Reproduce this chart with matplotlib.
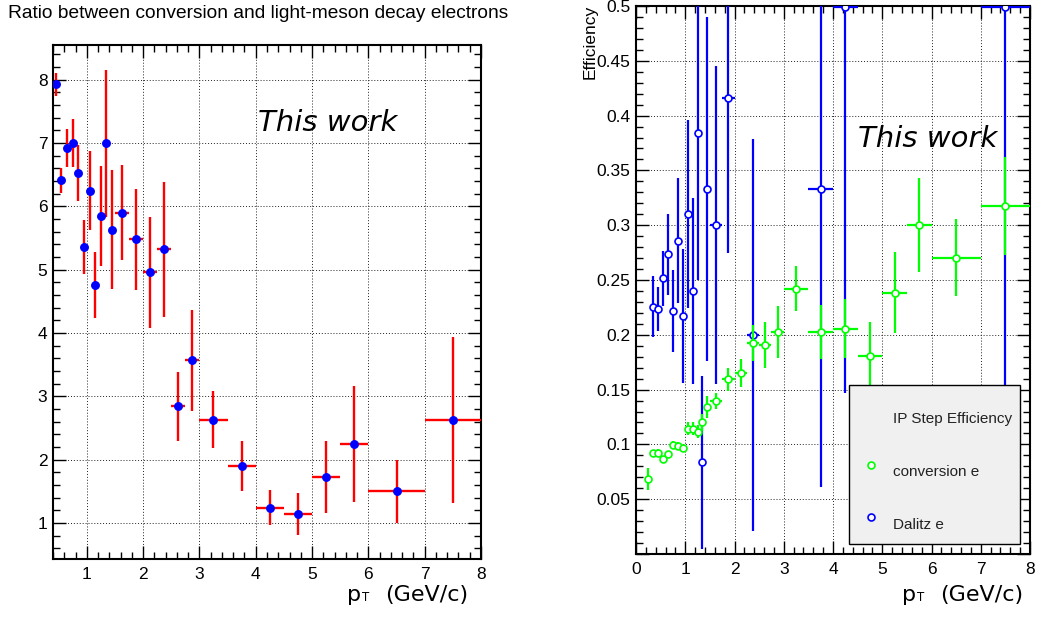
import matplotlib
matplotlib.use("Agg")
import matplotlib.pyplot as plt
from matplotlib.ticker import MultipleLocator, FuncFormatter
from matplotlib.patches import Rectangle
from matplotlib.lines import Line2D
from matplotlib.offsetbox import TextArea, HPacker, AnchoredOffsetbox

# ---- ratio of conversion to light-meson decay electrons ----
ratio_pt = [0.45, 0.55, 0.65, 0.75, 0.85, 0.95, 1.05, 1.15, 1.25, 1.35, 1.45,
            1.625, 1.875, 2.125, 2.375, 2.625, 2.875,
            3.25, 3.75, 4.25, 4.75, 5.25, 5.75, 6.5, 7.5]
ratio_halfbin = [0.05] * 11 + [0.125] * 6 + [0.25] * 6 + [0.5] * 2
ratio_val = [7.93, 6.41, 6.92, 7.00, 6.53, 5.36, 6.25, 4.76, 5.85, 7.00, 5.63,
             5.90, 5.48, 4.96, 5.32, 2.84, 3.57,
             2.63, 1.90, 1.24, 1.14, 1.73, 2.25, 1.50, 2.62]
ratio_err = [0.18, 0.20, 0.30, 0.38, 0.44, 0.42, 0.63, 0.52, 0.79, 1.16, 0.94,
             0.75, 0.80, 0.88, 1.07, 0.55, 0.80,
             0.45, 0.39, 0.28, 0.33, 0.57, 0.92, 0.50, 1.31]

# ---- IP step efficiency: conversion electrons ----
conv_pt = [0.25, 0.35, 0.45, 0.55, 0.65, 0.75, 0.85, 0.95, 1.05, 1.15, 1.25, 1.35, 1.45,
           1.625, 1.875, 2.125, 2.375, 2.625, 2.875,
           3.25, 3.75, 4.25, 4.75, 5.25, 5.75, 6.5, 7.5]
conv_halfbin = [0.05] * 13 + [0.125] * 6 + [0.25] * 6 + [0.5] * 2
conv_eff = [0.0685, 0.0922, 0.0925, 0.0868, 0.0913, 0.0998, 0.0989, 0.0965,
            0.1144, 0.1144, 0.1114, 0.1200, 0.1338,
            0.1396, 0.1593, 0.1650, 0.1927, 0.1906, 0.2027,
            0.2421, 0.2024, 0.2057, 0.1811, 0.2382, 0.3004, 0.2704, 0.3174]
conv_err = [0.010, 0.003, 0.003, 0.003, 0.003, 0.003, 0.003, 0.003,
            0.006, 0.006, 0.006, 0.008, 0.010,
            0.0075, 0.0106, 0.013, 0.0166, 0.021, 0.024,
            0.0207, 0.0245, 0.027, 0.031, 0.037, 0.043, 0.035, 0.045]

# ---- IP step efficiency: Dalitz electrons ----
dalitz_pt = [0.35, 0.45, 0.55, 0.65, 0.75, 0.85, 0.95, 1.05, 1.15, 1.25, 1.35, 1.45,
             1.625, 1.875, 2.375, 3.75, 4.25, 7.5]
dalitz_halfbin = [0.05] * 12 + [0.125] * 3 + [0.25] * 2 + [0.5]
dalitz_eff = [0.2257, 0.2234, 0.2515, 0.2733, 0.2215, 0.2858, 0.2173, 0.3103,
              0.2400, 0.3842, 0.0837, 0.3333, 0.3000, 0.4164, 0.2000,
              0.3332, 0.4995, 0.4995]
dalitz_err = [0.028, 0.020, 0.025, 0.037, 0.0375, 0.057, 0.061, 0.0855,
              0.085, 0.134, 0.079, 0.157, 0.145, 0.142, 0.179,
              0.272, 0.353, 0.42]

W, H = 1039, 621
fig = plt.figure(figsize=(W / 100, H / 100), dpi=100)
plt.rcParams['font.family'] = ['Liberation Sans', 'DejaVu Sans']

RED = '#ff0000'
BLUE = '#0000ff'
GREEN = '#00ff00'


def px_axes(l, r, t, b):
    return fig.add_axes([l / W, 1 - b / H, (r - l) / W, (b - t) / H])


def style_axes(ax, xmajor, xminor, ymajor, yminor):
    ax.xaxis.set_major_locator(MultipleLocator(xmajor))
    ax.xaxis.set_minor_locator(MultipleLocator(xminor))
    ax.yaxis.set_major_locator(MultipleLocator(ymajor))
    ax.yaxis.set_minor_locator(MultipleLocator(yminor))
    ax.tick_params(which='both', direction='in', top=True, right=True,
                   width=1.0, labelsize=12.5)
    ax.tick_params(which='major', length=9.5)
    ax.tick_params(which='minor', length=5)
    ax.tick_params(axis='x', pad=6)
    ax.tick_params(axis='y', pad=4)
    for s in ax.spines.values():
        s.set_linewidth(1.5)
    ax.grid(True, which='major', color='#222222', linewidth=0.7,
            linestyle=(0, (1, 2)))
    ax.set_axisbelow(True)


def pt_label(x_right, y_base):
    p = TextArea('p', textprops=dict(size=16, family='DejaVu Sans'))
    t = TextArea('T', textprops=dict(size=8.5, family='DejaVu Sans'))
    g = TextArea('(GeV/c)', textprops=dict(size=16, family='DejaVu Sans'))
    inner = HPacker(children=[p, t], sep=1, pad=0, align='baseline')
    box = HPacker(children=[inner, g], sep=11, pad=0, align='baseline')
    ab = AnchoredOffsetbox(loc='lower right', child=box, pad=0, borderpad=0,
                           frameon=False, bbox_to_anchor=(x_right / W, 1 - y_base / H),
                           bbox_transform=fig.transFigure)
    fig.add_artist(ab)


# ---- left panel: ratio ----
ax1 = px_axes(53, 481, 45, 559)
ax1.errorbar(ratio_pt, ratio_val, xerr=ratio_halfbin, yerr=ratio_err,
             fmt='o', color=BLUE, ms=5.4, mec=BLUE, mfc=BLUE,
             ecolor=RED, elinewidth=1.7, capsize=0, zorder=3)
ax1.set_xlim(0.4, 8.0)
ax1.set_ylim(0.43, 8.55)
style_axes(ax1, 1, 0.2, 1, 0.2)

fig.text(8 / W, 1 - 17.5 / H, 'Ratio between conversion and light-meson decay electrons',
         fontsize=13.8, va='baseline', ha='left')
fig.text(258 / W, 1 - 130.7 / H, 'This work', family='DejaVu Sans',
         style='italic', fontsize=21, va='baseline', ha='left')
pt_label(468, 605)

# ---- right panel: efficiencies ----
ax2 = px_axes(636, 1030, 6, 554)
ax2.errorbar(dalitz_pt, dalitz_eff, xerr=dalitz_halfbin, yerr=dalitz_err,
             fmt='o', color=BLUE, ms=5, mec=BLUE, mfc='white', mew=1.2,
             elinewidth=1.6, capsize=0, zorder=3)
ax2.errorbar(conv_pt, conv_eff, xerr=conv_halfbin, yerr=conv_err,
             fmt='o', color=GREEN, ms=5, mec=GREEN, mfc='white', mew=1.2,
             elinewidth=1.6, capsize=0, zorder=4)
ax2.set_xlim(0, 8)
ax2.set_ylim(0, 0.5)
style_axes(ax2, 1, 0.2, 0.05, 0.01)
ax2.yaxis.set_major_formatter(FuncFormatter(lambda v, _: '' if abs(v) < 1e-9 else f'{v:g}'))

fig.text(590 / W, 1 - 5 / H, 'Efficiency', rotation=90, fontsize=12.5,
         ha='center', va='top')
fig.text(858 / W, 1 - 146.7 / H, 'This work', family='DejaVu Sans',
         style='italic', fontsize=21, va='baseline', ha='left')
pt_label(1023, 605)

# legend box
fig.add_artist(Rectangle((849 / W, 1 - 544 / H), 171 / W, 159 / H,
                         transform=fig.transFigure, facecolor='#f0f0f0',
                         edgecolor='black', linewidth=1.0, zorder=10))
fig.text(893 / W, 1 - 419 / H, 'IP Step Efficiency', fontsize=11,
         va='center', ha='left', color='#222222', zorder=11)
fig.text(893 / W, 1 - 471.7 / H, 'conversion e', fontsize=11,
         va='center', ha='left', color='#222222', zorder=11)
fig.text(893 / W, 1 - 525 / H, 'Dalitz e', fontsize=11,
         va='center', ha='left', color='#222222', zorder=11)
for yy, col in ((464.7, GREEN), (517.3, BLUE)):
    fig.add_artist(Line2D([870.7 / W], [1 - yy / H], transform=fig.transFigure,
                          marker='o', ms=5, mec=col, mfc='white', mew=1.2,
                          linestyle='none', zorder=11))

fig.savefig('out.png', dpi=100)
